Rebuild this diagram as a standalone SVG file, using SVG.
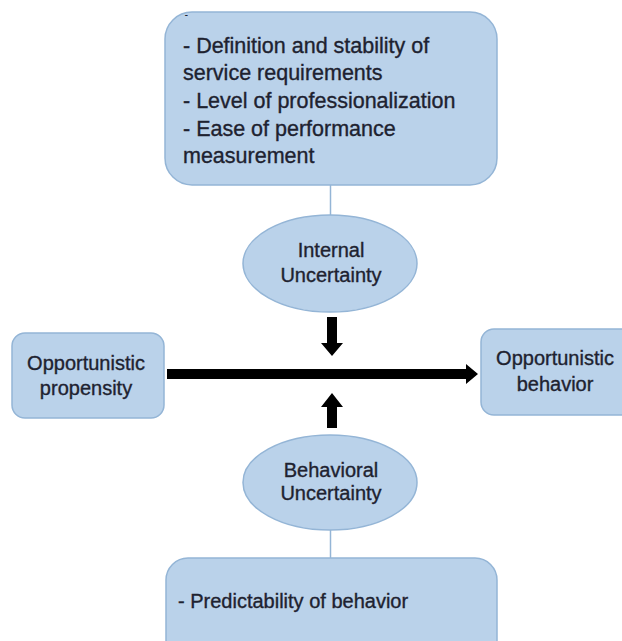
<svg xmlns="http://www.w3.org/2000/svg" width="622" height="641" viewBox="0 0 622 641">
<style>
.box{fill:#bad2ea;stroke:#94b5d6;stroke-width:1.5}
.t{font-family:"Liberation Sans",Arial,sans-serif;font-size:20px;fill:#1e2230;stroke:#1e2230;stroke-width:0.35}
.tb{font-family:"Liberation Sans",Arial,sans-serif;font-size:21.5px;fill:#1e2230;stroke:#1e2230;stroke-width:0.35}
.c{text-anchor:middle}
.line{stroke:#94b5d6;stroke-width:1.5;fill:none}
.arr{fill:#000}
</style>
<rect width="622" height="641" fill="#fff"/>
<g id="connectors">
<line class="line" x1="330.5" y1="185" x2="330.5" y2="215"/>
<line class="line" x1="330.5" y1="530" x2="330.5" y2="558"/>
<path class="arr" d="M167 369 H466 V364 L478 374 L466 384 V379 H167 Z"/>
<path class="arr" d="M327 317 H337 V343 H343 L332 356 L321 343 H327 Z"/>
<path class="arr" d="M327 428 H337 V407 H343 L332 393 L321 407 H327 Z"/>
</g>
<g id="node-top">
<rect class="box" x="165" y="12" width="332" height="173" rx="27"/>
<text class="t" x="185" y="17" style="font-size:8px">-</text>
<text class="tb" x="183" y="53">- Definition and stability of</text>
<text class="tb" x="183" y="80">service requirements</text>
<text class="tb" x="183" y="108">- Level of professionalization</text>
<text class="tb" x="183" y="136">- Ease of performance</text>
<text class="tb" x="183" y="163">measurement</text>
</g>
<g id="node-internal">
<ellipse class="box" cx="330" cy="263.5" rx="87" ry="48.5"/>
<text class="t c" x="331" y="257">Internal</text>
<text class="t c" x="331" y="282">Uncertainty</text>
</g>
<g id="node-propensity">
<rect class="box" x="12" y="333" width="152" height="85" rx="13"/>
<text class="t c" x="86" y="370">Opportunistic</text>
<text class="t c" x="86" y="395">propensity</text>
</g>
<g id="node-behavior">
<rect class="box" x="481" y="329" width="170" height="86" rx="13"/>
<text class="t c" x="555" y="365">Opportunistic</text>
<text class="t c" x="555" y="391">behavior</text>
</g>
<g id="node-behavioral">
<ellipse class="box" cx="330" cy="482.5" rx="87" ry="47.5"/>
<text class="t c" x="331" y="477">Behavioral</text>
<text class="t c" x="331" y="500">Uncertainty</text>
</g>
<g id="node-bottom">
<rect class="box" x="166" y="558" width="331" height="110" rx="22"/>
<text class="t" x="178" y="608">- Predictability of behavior</text>
</g>
</svg>
